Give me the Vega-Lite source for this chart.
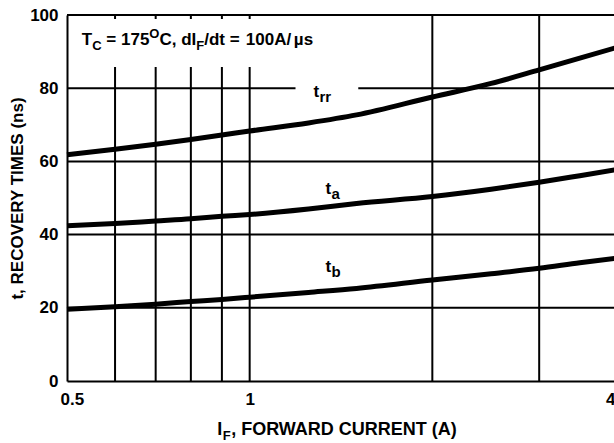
{
  "$schema": "https://vega.github.io/schema/vega-lite/v6.json",
  "width": 548,
  "height": 366,
  "autosize": "none",
  "padding": {"left": 67, "top": 15, "right": 0, "bottom": 62},
  "background": "white",
  "config": {
    "view": {"stroke": null},
    "axis": {
      "domainColor": "black", "domainWidth": 2, "ticks": false, "grid": false,
      "labelFont": "Liberation Sans", "labelFontWeight": "bold", "labelFontSize": 17, "labelColor": "black",
      "titleFont": "Liberation Sans", "titleFontWeight": "bold", "titleFontSize": 17, "titleColor": "black"
    },
    "text": {"font": "Liberation Sans", "fontWeight": "bold", "color": "black"}
  },
  "datasets": {
    "vgrid": [
      {"I": 0.6, "t": 0, "t2": 85.8}, {"I": 0.7, "t": 0, "t2": 85.8}, {"I": 0.8, "t": 0, "t2": 85.8},
      {"I": 0.9, "t": 0, "t2": 85.8}, {"I": 1, "t": 0, "t2": 85.8},
      {"I": 2, "t": 0, "t2": 100}, {"I": 3, "t": 0, "t2": 100},
      {"I": 0.6, "t": 98.9, "t2": 100}, {"I": 0.7, "t": 98.9, "t2": 100}, {"I": 0.8, "t": 98.9, "t2": 100},
      {"I": 0.9, "t": 98.9, "t2": 100}, {"I": 1, "t": 98.9, "t2": 100}
    ],
    "hgrid": [
      {"t": 20, "I": 0.5, "I2": 4}, {"t": 40, "I": 0.5, "I2": 4}, {"t": 60, "I": 0.5, "I2": 4},
      {"t": 80, "I": 0.5, "I2": 1.19}, {"t": 80, "I": 1.51, "I2": 4}, {"t": 100, "I": 0.5, "I2": 4}
    ],
    "curves": [
      {"s": "trr", "I": 0.5, "t": 61.8}, {"s": "trr", "I": 0.6, "t": 63.3}, {"s": "trr", "I": 0.7, "t": 64.7},
      {"s": "trr", "I": 0.8, "t": 66.0}, {"s": "trr", "I": 0.9, "t": 67.2}, {"s": "trr", "I": 1, "t": 68.3},
      {"s": "trr", "I": 1.25, "t": 70.5}, {"s": "trr", "I": 1.5, "t": 72.7}, {"s": "trr", "I": 2, "t": 77.6},
      {"s": "trr", "I": 2.5, "t": 81.3}, {"s": "trr", "I": 3, "t": 85.0}, {"s": "trr", "I": 3.5, "t": 88.2},
      {"s": "trr", "I": 4, "t": 91.0},
      {"s": "ta", "I": 0.5, "t": 42.4}, {"s": "ta", "I": 0.6, "t": 43.0}, {"s": "ta", "I": 0.7, "t": 43.7},
      {"s": "ta", "I": 0.8, "t": 44.3}, {"s": "ta", "I": 0.9, "t": 45.0}, {"s": "ta", "I": 1, "t": 45.5},
      {"s": "ta", "I": 1.25, "t": 47.0}, {"s": "ta", "I": 1.5, "t": 48.5}, {"s": "ta", "I": 2, "t": 50.4},
      {"s": "ta", "I": 2.5, "t": 52.4}, {"s": "ta", "I": 3, "t": 54.3}, {"s": "ta", "I": 3.5, "t": 56.1},
      {"s": "ta", "I": 4, "t": 57.7},
      {"s": "tb", "I": 0.5, "t": 19.6}, {"s": "tb", "I": 0.6, "t": 20.3}, {"s": "tb", "I": 0.7, "t": 21.0},
      {"s": "tb", "I": 0.8, "t": 21.7}, {"s": "tb", "I": 0.9, "t": 22.3}, {"s": "tb", "I": 1, "t": 22.9},
      {"s": "tb", "I": 1.25, "t": 24.2}, {"s": "tb", "I": 1.5, "t": 25.3}, {"s": "tb", "I": 2, "t": 27.6},
      {"s": "tb", "I": 2.5, "t": 29.3}, {"s": "tb", "I": 3, "t": 30.8}, {"s": "tb", "I": 3.5, "t": 32.3},
      {"s": "tb", "I": 4, "t": 33.5}
    ],
    "clabels": [
      {"I": 1.274, "t": 77.6, "base": "t", "sub": "rr"},
      {"I": 1.334, "t": 51.1, "base": "t", "sub": "a"},
      {"I": 1.334, "t": 29.8, "base": "t", "sub": "b"}
    ],
    "note": [
      {"I": 0.529, "t": 91.8, "p1": "T", "p2": "C", "p3": "= 175", "p4": "O", "p5": "C, dI", "p6": "F", "p7": "/dt =", "p8": "100A/", "p9": "µs"}
    ],
    "xtitle": [
      {"I": 0.884, "t": -14.75, "a": "I", "b": "F", "c": ", FORWARD CURRENT (A)"}
    ]
  },
  "encoding": {
    "x": {"field": "I", "type": "quantitative", "scale": {"type": "log", "domain": [0.5, 4], "nice": false},
          "axis": {"values": [0.5, 1, 4], "format": "~g", "title": null, "labelPadding": 10,
                   "labelOffset": {"condition": {"test": "datum.value == 0.5", "value": -7}, "value": 0}}},
    "y": {"field": "t", "type": "quantitative", "scale": {"domain": [0, 100], "nice": false},
          "axis": {"values": [0, 20, 40, 60, 80, 100], "title": "t, RECOVERY TIMES (ns)", "labelPadding": 9, "titlePadding": 3}}
  },
  "layer": [
    {
      "data": {"name": "vgrid"},
      "mark": {"type": "rule", "color": "black", "strokeWidth": 2},
      "encoding": {"y2": {"field": "t2"}}
    },
    {
      "data": {"name": "hgrid"},
      "mark": {"type": "rule", "color": "black", "strokeWidth": 2},
      "encoding": {"x2": {"field": "I2"}}
    },
    {
      "data": {"name": "curves"},
      "mark": {"type": "line", "color": "black", "strokeWidth": 5, "interpolate": "monotone"},
      "encoding": {"detail": {"field": "s"}}
    },
    {
      "data": {"name": "clabels"},
      "mark": {"type": "text", "align": "left", "baseline": "alphabetic", "fontSize": 17},
      "encoding": {"text": {"field": "base"}}
    },
    {
      "data": {"name": "clabels"},
      "mark": {"type": "text", "align": "left", "baseline": "alphabetic", "fontSize": 15, "dx": 6, "dy": 5},
      "encoding": {"text": {"field": "sub"}}
    },
    {
      "data": {"name": "note"},
      "mark": {"type": "text", "align": "left", "baseline": "alphabetic", "fontSize": 17},
      "encoding": {"text": {"field": "p1"}}
    },
    {
      "data": {"name": "note"},
      "mark": {"type": "text", "align": "left", "baseline": "alphabetic", "fontSize": 13, "dx": 10.4, "dy": 5},
      "encoding": {"text": {"field": "p2"}}
    },
    {
      "data": {"name": "note"},
      "mark": {"type": "text", "align": "left", "baseline": "alphabetic", "fontSize": 17, "dx": 24.5},
      "encoding": {"text": {"field": "p3"}}
    },
    {
      "data": {"name": "note"},
      "mark": {"type": "text", "align": "left", "baseline": "alphabetic", "fontSize": 13, "dx": 67.5, "dy": -7},
      "encoding": {"text": {"field": "p4"}}
    },
    {
      "data": {"name": "note"},
      "mark": {"type": "text", "align": "left", "baseline": "alphabetic", "fontSize": 17, "dx": 77.6},
      "encoding": {"text": {"field": "p5"}}
    },
    {
      "data": {"name": "note"},
      "mark": {"type": "text", "align": "left", "baseline": "alphabetic", "fontSize": 13, "dx": 114.4, "dy": 5},
      "encoding": {"text": {"field": "p6"}}
    },
    {
      "data": {"name": "note"},
      "mark": {"type": "text", "align": "left", "baseline": "alphabetic", "fontSize": 17, "dx": 122.3},
      "encoding": {"text": {"field": "p7"}}
    },
    {
      "data": {"name": "note"},
      "mark": {"type": "text", "align": "left", "baseline": "alphabetic", "fontSize": 17, "dx": 164},
      "encoding": {"text": {"field": "p8"}}
    },
    {
      "data": {"name": "note"},
      "mark": {"type": "text", "align": "left", "baseline": "alphabetic", "fontSize": 17, "dx": 212},
      "encoding": {"text": {"field": "p9"}}
    },
    {
      "data": {"name": "xtitle"},
      "mark": {"type": "text", "align": "left", "baseline": "alphabetic", "fontSize": 18},
      "encoding": {"text": {"field": "a"}}
    },
    {
      "data": {"name": "xtitle"},
      "mark": {"type": "text", "align": "left", "baseline": "alphabetic", "fontSize": 13, "dx": 5.5, "dy": 5},
      "encoding": {"text": {"field": "b"}}
    },
    {
      "data": {"name": "xtitle"},
      "mark": {"type": "text", "align": "left", "baseline": "alphabetic", "fontSize": 18, "dx": 14},
      "encoding": {"text": {"field": "c"}}
    }
  ]
}
